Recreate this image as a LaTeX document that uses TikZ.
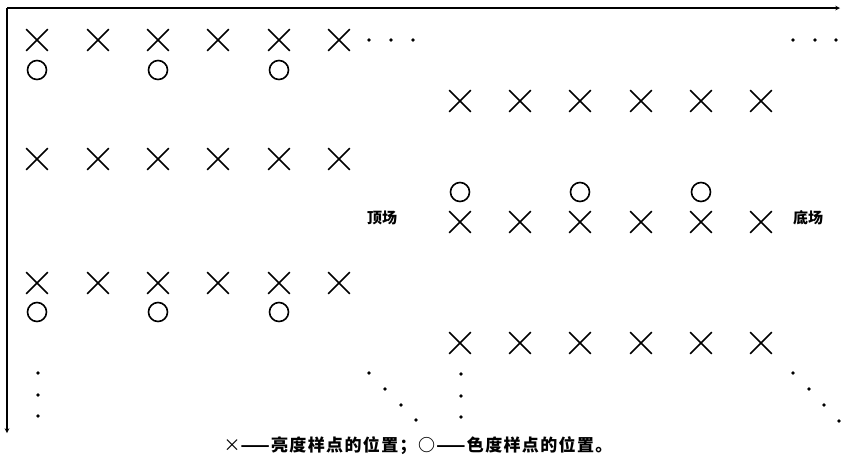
\documentclass[tikz,border=0pt]{standalone}
\usepackage{fontspec}
\newfontfamily\cjk{Noto Sans CJK SC}
\usetikzlibrary{shapes.misc}

\begin{document}
\begin{tikzpicture}[x=1pt,y=-1pt,>=stealth,
		lum/.style={draw,cross out,minimum size=20pt,inner sep=0pt,line width=1.6pt},
		chr/.style={draw,circle,minimum size=19pt,inner sep=0pt,line width=1.6pt},
		fieldname/.style={font=\cjk\bfseries\fontsize{15}{15}\selectfont},
		dot/.style={fill=black}]
		\useasboundingbox (0,0) rectangle (841,467);

		% Axes
		\coordinate (o) at (7,8);
		\coordinate (xend) at (840,8);
		\coordinate (yend) at (7,433);
		\draw[->,line width=1.1pt] (o) -- (xend);
		\draw[->,line width=1.1pt] (o) -- (yend);

		% Top field
		\foreach \c [count=\i] in {37,98,158,218,279,339} {
			\node[lum] (t1-\i) at (\c,40) {};
			\node[lum] (t2-\i) at (\c,159) {};
			\node[lum] (t3-\i) at (\c,283) {};
		}
		\foreach \c [count=\i] in {37,158,279} {
			\node[chr] (tc1-\i) at (\c,70) {};
			\node[chr] (tc3-\i) at (\c,312) {};
		}

		% Bottom field
		\foreach \c [count=\i] in {460,520,580,641,701,761} {
			\node[lum] (b1-\i) at (\c,101) {};
			\node[lum] (b2-\i) at (\c,222) {};
			\node[lum] (b3-\i) at (\c,343) {};
		}
		\foreach \c [count=\i] in {460,580,701} {
			\node[chr] (bc2-\i) at (\c,192) {};
		}

		% Ellipses
		\foreach \x in {369,391,413} \fill[dot] (\x,40) circle (1.8pt);
		\foreach \x in {793,815,836} \fill[dot] (\x,40) circle (1.8pt);
		\foreach \y in {373,395,416} {
			\fill[dot] (38,\y) circle (1.8pt);
			\fill[dot] (461,\y+1) circle (1.8pt);
		}
		\foreach \x/\y in {369/373,385/389,401/405,416/420} \fill[dot] (\x,\y) circle (1.8pt);
		\foreach \x/\y in {793/373,809/389,824/405,839/421} \fill[dot] (\x,\y) circle (1.8pt);

		% Field names
		\node[fieldname] (topname) at (382,218) {顶场};
		\node[fieldname] (botname) at (808,218) {底场};

		% Legend
		\node[font=\cjk\bfseries\fontsize{17}{17}\selectfont\addfontfeature{LetterSpace=8}] (legend) at (418,446)
			{{\normalfont\cjk\fontsize{17}{17}\selectfont ×}——亮度样点的位置；○——色度样点的位置。};
	\end{tikzpicture}
\end{document}
